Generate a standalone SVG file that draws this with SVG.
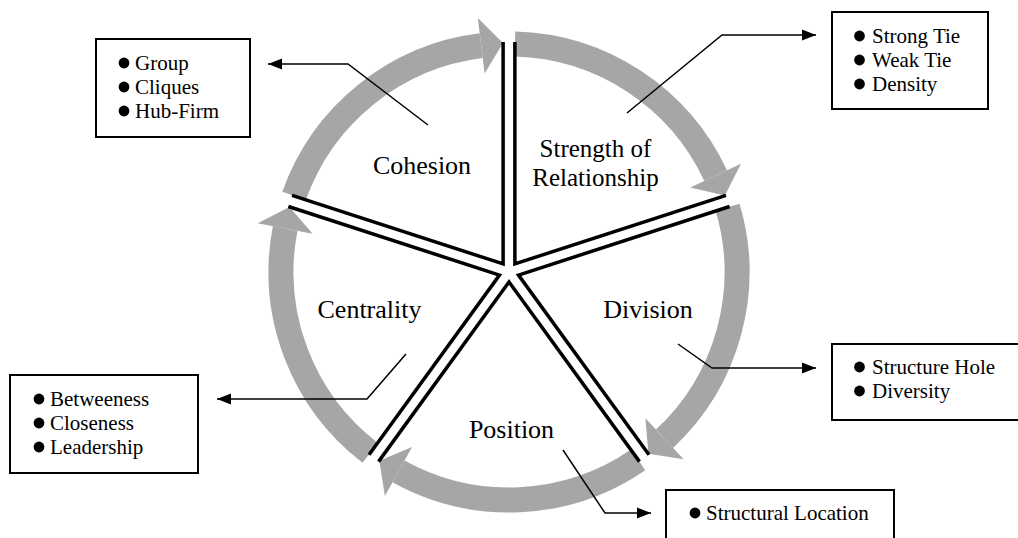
<svg xmlns="http://www.w3.org/2000/svg" width="1018" height="538" viewBox="0 0 1018 538">
<style>
.band{fill:none;stroke:#A6A6A6;stroke-width:25;stroke-linecap:butt}
.head{fill:#A6A6A6;stroke:none}
.spoke{fill:none;stroke:#000;stroke-width:3.5;stroke-linejoin:miter;stroke-linecap:butt}
.lbl{font-family:"Liberation Serif","Times New Roman",serif;font-size:26px;fill:#000;text-anchor:middle}
.lbl2{font-size:25px}
.box{fill:#fff;stroke:#000;stroke-width:2}
.item{font-family:"Liberation Serif","Times New Roman",serif;font-size:21px;fill:#000}
.bul{fill:#000}
.conn{fill:none;stroke:#000;stroke-width:1.5}
</style>
<defs>
<marker id="arr" markerUnits="userSpaceOnUse" markerWidth="16" markerHeight="12" refX="14" refY="6" orient="auto">
<path d="M0,0.5 L14,6 L0,11.5 z" fill="#000"/>
</marker>
</defs>
<rect width="1018" height="538" fill="#fff"/>

<g id="strength">
<path class="band" d="M514.97,44.08 A228,228 0 0,1 715.64,175.64"/>
<polygon class="head" points="741.02,163.81 724.86,195.56 690.26,187.48"/>
<polyline class="spoke" points="514.88,41.91 514.88,263.91 726.01,195.31"/>
<text class="lbl lbl2" x="595.5" y="157">Strength of</text>
<text class="lbl lbl2" x="595.5" y="186">Relationship</text>
</g>

<g id="division">
<path class="band" d="M727.61,207.24 A228,228 0 0,1 664.50,438.75"/>
<polygon class="head" points="683.59,459.23 648.41,453.68 645.40,418.27"/>
<polyline class="spoke" points="729.64,206.49 518.51,275.09 649.00,454.69"/>
<text class="lbl" x="648" y="318">Division</text>
</g>

<g id="position">
<path class="band" d="M638.14,459.90 A228,228 0 0,1 398.46,471.41"/>
<polygon class="head" points="384.89,495.90 379.29,460.73 412.04,446.92"/>
<polyline class="spoke" points="639.49,461.60 509,282 378.51,461.60"/>
<text class="lbl" x="511.5" y="438">Position</text>
</g>

<g id="centrality">
<path class="band" d="M370.20,452.88 A228,228 0 0,1 285.19,228.50"/>
<polygon class="head" points="257.70,223.15 289.43,206.96 312.67,233.84"/>
<polyline class="spoke" points="369.00,454.69 499.49,275.09 288.36,206.49"/>
<text class="lbl" x="369.5" y="318">Centrality</text>
</g>

<g id="cohesion">
<path class="band" d="M294.08,195.89 A228,228 0 0,1 481.21,45.70"/>
<polygon class="head" points="477.80,17.91 503.00,43.08 484.63,73.49"/>
<polyline class="spoke" points="291.99,195.31 503.12,263.91 503.12,41.91"/>
<text class="lbl" x="422" y="174">Cohesion</text>
</g>

<g id="box-cohesion">
<rect class="box" x="96" y="39" width="154" height="98"/>
<circle class="bul" cx="124" cy="63" r="5.4"/>
<text class="item" x="135" y="70">Group</text>
<circle class="bul" cx="124" cy="87" r="5.4"/>
<text class="item" x="135" y="94">Cliques</text>
<circle class="bul" cx="124" cy="111" r="5.4"/>
<text class="item" x="135" y="118">Hub-Firm</text>
</g>

<g id="box-strength">
<rect class="box" x="832" y="12" width="156" height="97"/>
<circle class="bul" cx="859.5" cy="36" r="5.4"/>
<text class="item" x="872" y="43">Strong Tie</text>
<circle class="bul" cx="859.5" cy="60" r="5.4"/>
<text class="item" x="872" y="67">Weak Tie</text>
<circle class="bul" cx="859.5" cy="84" r="5.4"/>
<text class="item" x="872" y="91">Density</text>
</g>

<g id="box-division">
<rect class="box" x="832" y="344" width="190" height="76"/>
<circle class="bul" cx="859.5" cy="367" r="5.4"/>
<text class="item" x="872" y="374">Structure Hole</text>
<circle class="bul" cx="859.5" cy="391" r="5.4"/>
<text class="item" x="872" y="398">Diversity</text>
</g>

<g id="box-centrality">
<rect class="box" x="10" y="375" width="188" height="98"/>
<circle class="bul" cx="39" cy="399" r="5.4"/>
<text class="item" x="50" y="406">Betweeness</text>
<circle class="bul" cx="39" cy="423" r="5.4"/>
<text class="item" x="50" y="430">Closeness</text>
<circle class="bul" cx="39" cy="447" r="5.4"/>
<text class="item" x="50" y="454">Leadership</text>
</g>

<g id="box-position">
<rect class="box" x="666" y="490" width="228" height="60"/>
<circle class="bul" cx="695" cy="513" r="5.4"/>
<text class="item" x="706" y="520">Structural Location</text>
</g>

<g id="connectors">
<path class="conn" d="M428,125 L348,64 L268,64" marker-end="url(#arr)"/>
<path class="conn" d="M627,113 L722,35 L816,35" marker-end="url(#arr)"/>
<path class="conn" d="M678,344 L712,368 L816,368" marker-end="url(#arr)"/>
<path class="conn" d="M406,354 L367,399 L217,399" marker-end="url(#arr)"/>
<path class="conn" d="M563,450 L605,513 L651,513" marker-end="url(#arr)"/>
</g>
</svg>
